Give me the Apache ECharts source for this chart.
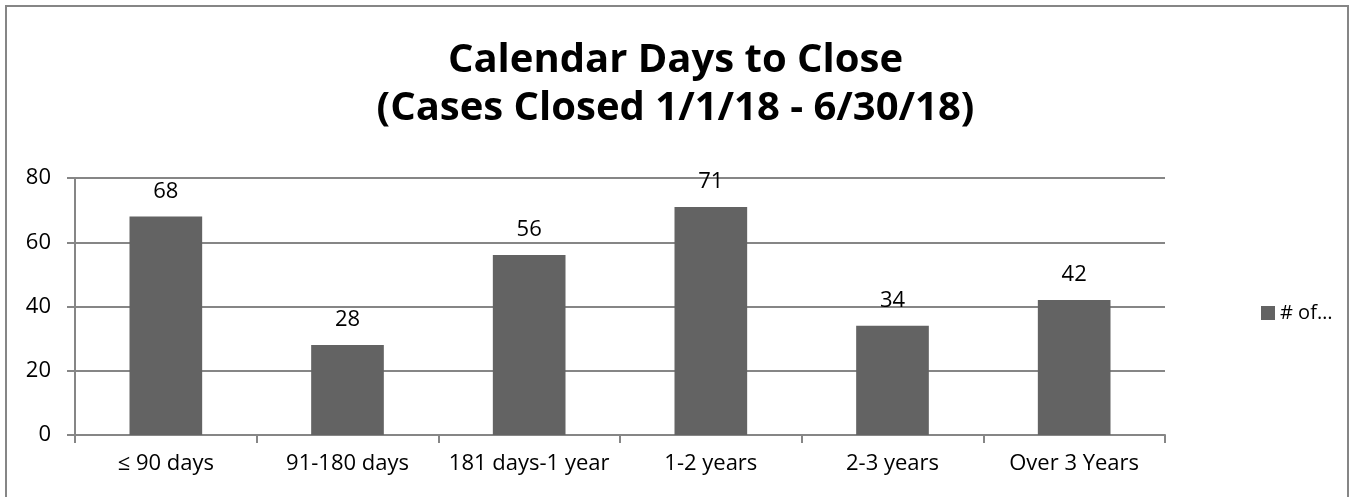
<!DOCTYPE html>
<html lang="en">
<head>
    <meta charset="UTF-8">
    <script type="text/javascript" src="https://cdn.jsdelivr.net/npm/echarts@6/dist/echarts.min.js"></script>
    <style>
        body { margin: 0; background: #fff; }
        #main { width: 1351px; height: 497px; }
    </style>
</head>
<body>
    <div id="main"></div>
    <script type="text/javascript">
        var titleLines = ['Calendar Days to Close', '(Cases Closed 1/1/18 - 6/30/18)'];
        var categories = ['≤ 90 days', '91-180 days', '181 days-1 year', '1-2 years', '2-3 years', 'Over 3 Years'];
        var caseCounts = [68, 28, 56, 71, 34, 42];
        var seriesName = '# of Cases';
        var yTicks = [0, 20, 40, 60, 80];

        var axisGray = '#868686';
        var fontFam = '"Open Sans", "Noto Sans", sans-serif';

        var myChart = echarts.init(document.getElementById('main'));
        var option = {
            color: ['#636363'],
            animation: false,
            title: {
                text: titleLines.join('\n'),
                left: 'center',
                top: 32,
                textStyle: {
                    fontFamily: fontFam,
                    fontWeight: 'bold',
                    fontSize: 40,
                    lineHeight: 48,
                    color: '#000'
                }
            },
            legend: {
                left: 1256,
                top: 298,
                icon: 'rect',
                itemWidth: 14,
                itemHeight: 14,
                formatter: function () { return '# of…'; },
                textStyle: { fontFamily: fontFam, fontSize: 20, color: '#000' }
            },
            graphic: [{
                type: 'rect',
                shape: { x: 6, y: 6, width: 1342, height: 520 },
                style: { fill: 'none', stroke: axisGray, lineWidth: 2 },
                silent: true
            }],
            grid: { left: 75, right: 186, top: 178, bottom: 62 },
            xAxis: {
                type: 'category',
                data: categories,
                axisLine: { lineStyle: { color: axisGray, width: 2 } },
                axisTick: { show: true, interval: 0, length: 8, lineStyle: { color: axisGray, width: 2 } },
                axisLabel: { interval: 0, fontFamily: fontFam, fontSize: 22, color: '#000', margin: 18 }
            },
            yAxis: {
                type: 'value',
                min: yTicks[0],
                max: yTicks[yTicks.length - 1],
                interval: yTicks[1] - yTicks[0],
                axisLine: { show: true, lineStyle: { color: axisGray, width: 2 } },
                axisTick: { show: true, length: 8, lineStyle: { color: axisGray, width: 2 } },
                splitLine: { lineStyle: { color: axisGray, width: 2 } },
                axisLabel: { fontFamily: fontFam, fontSize: 22, color: '#000', margin: 24 }
            },
            series: [{
                name: seriesName,
                type: 'bar',
                data: caseCounts,
                barWidth: '40%',
                label: {
                    show: true,
                    position: 'top',
                    distance: 14,
                    fontFamily: fontFam,
                    fontSize: 22,
                    color: '#000'
                }
            }]
        };
        myChart.setOption(option);
    </script>
</body>
</html>
